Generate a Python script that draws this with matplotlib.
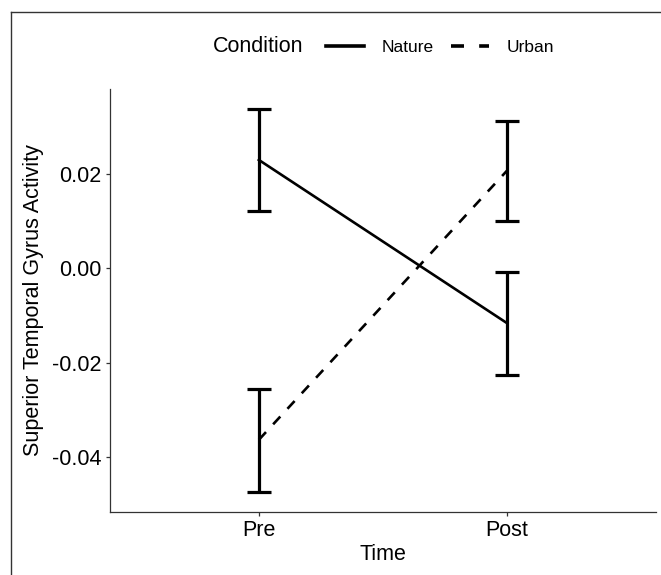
import matplotlib
matplotlib.use("Agg")
import matplotlib.pyplot as plt
from matplotlib.lines import Line2D

plt.rcParams['font.family'] = ['Liberation Sans', 'DejaVu Sans']

times = ['Pre', 'Post']
conditions = ['Nature', 'Urban']
nature_mean = [0.0229, -0.0116]
nature_lo = [0.0121, -0.0226]
nature_hi = [0.0337, -0.0007]
urban_mean = [-0.0363, 0.0206]
urban_lo = [-0.0473, 0.0099]
urban_hi = [-0.0256, 0.0312]
yticks = [0.02, 0.00, -0.02, -0.04]
ytick_labels = ['0.02', '0.00', '-0.02', '-0.04']

W, H = 661, 575
fig = plt.figure(figsize=(W / 100, H / 100), dpi=100)
ax = fig.add_axes([110 / W, 1 - 511.7 / H, (655.7 - 110) / W, (511.7 - 89) / H])

x = [1, 2]
series = [
    (nature_mean, nature_lo, nature_hi, '-', '-'),
    (urban_mean, urban_lo, urban_hi, (0, (4, 4)), (0, (3.6, 4.2))),
]
handles = []
for mean, lo, hi, ls, hls in series:
    ax.plot(x, mean, color='black', lw=1.9, linestyle=ls, zorder=3)
    handles.append(Line2D([], [], color='black', lw=2.6, linestyle=hls))
    yerr = [[m - l for m, l in zip(mean, lo)], [h - m for m, h in zip(mean, hi)]]
    ax.errorbar(x, mean, yerr=yerr, fmt='none', ecolor='black',
                elinewidth=2.3, capsize=8.6, capthick=2.3, zorder=4)

ax.set_xlim(0.4, 2.6)
ax.set_ylim(-0.0515, 0.0379)
ax.set_xticks(x)
ax.set_xticklabels(times)
ax.set_yticks(yticks)
ax.set_yticklabels(ytick_labels)
for s in ['top', 'right']:
    ax.spines[s].set_visible(False)
for s in ['left', 'bottom']:
    ax.spines[s].set_color('#333333')
    ax.spines[s].set_linewidth(0.9)
ax.tick_params(axis='both', length=3.2, width=0.9, color='#333333',
               labelsize=15.5, labelcolor='black', pad=3)
ax.set_xlabel('Time', fontsize=15.5, labelpad=2)
ax.set_ylabel('Superior Temporal Gyrus Activity', fontsize=15.5, labelpad=6)

fig.text(213 / W, 1 - 47 / H, 'Condition', fontsize=15.5, va='center', ha='left')
fig.legend(handles, conditions, ncol=2, loc='center left',
           bbox_to_anchor=(326 / W, 1 - 47 / H), frameon=False,
           fontsize=12.5, handlelength=2.2, handletextpad=1.0,
           columnspacing=1.0, borderpad=0, borderaxespad=0)

# figure border (top and left visible)
fig.add_artist(Line2D([11 / W, 11 / W], [0, 1 - 12 / H], color='#333333', lw=1.0,
                      transform=fig.transFigure))
fig.add_artist(Line2D([11 / W, 1], [1 - 12 / H, 1 - 12 / H], color='#333333', lw=1.0,
                      transform=fig.transFigure))

fig.savefig('out.png', dpi=100, facecolor='white')
